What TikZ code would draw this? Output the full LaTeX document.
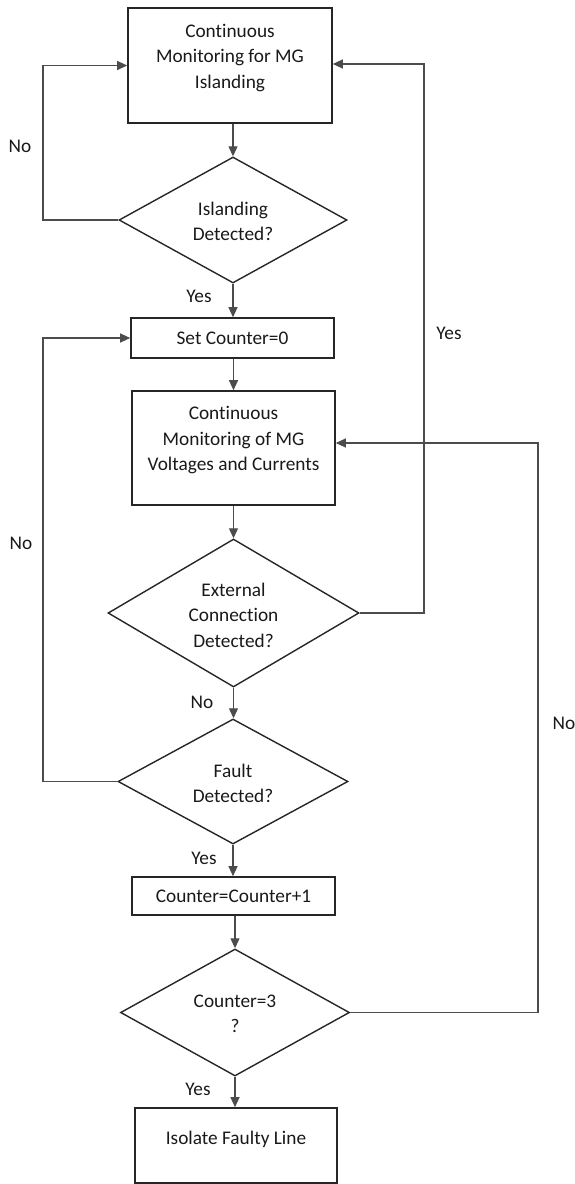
\documentclass[tikz,border=0pt]{standalone}
\usepackage{fontspec}
\setmainfont[Ligatures=NoCommon]{Carlito}
\usetikzlibrary{arrows.meta,shapes.geometric}

\begin{document}
\begin{tikzpicture}[x=1pt,y=-1pt,
  every node/.style={font=\fontsize{19.3}{25.5}\selectfont, text=black!90},
  boxst/.style={draw=black!85, line width=1.6pt, rectangle, inner sep=0pt},
  decst/.style={draw=black!85, line width=1.4pt, diamond, inner sep=0pt},
  txt/.style={align=center, inner sep=0pt},
  lbl/.style={inner sep=0pt},
  arr/.style={draw=black!70, line width=1.1pt, -{Triangle[length=10pt,width=9pt]}},
  ln/.style={draw=black!70, line width=1.1pt}]
\useasboundingbox (0,0) rectangle (575,1184);

% process boxes
\node[boxst, minimum width=204pt, minimum height=115pt] (b1) at (230,65.5) {};
\node[txt] (t1) at (230,58) {Continuous\\Monitoring for MG\\Islanding};

\node[boxst, minimum width=203pt, minimum height=40pt] (b2) at (232.5,338) {};
\node[txt] (t2) at (232.5,338) {Set Counter=0};

\node[boxst, minimum width=203pt, minimum height=114pt] (b3) at (233.5,448) {};
\node[txt] (t3) at (233.5,440.5) {Continuous\\Monitoring of MG\\Voltages and Currents};

\node[boxst, minimum width=203pt, minimum height=38pt] (b4) at (233.5,896) {};
\node[txt] (t4) at (233.5,896) {Counter=Counter+1};

\node[boxst, minimum width=202pt, minimum height=75pt] (b5) at (236,1145.5) {};
\node[txt] (t5) at (236,1139) {Isolate Faulty Line};

% decisions
\node[decst, minimum width=228pt, minimum height=126pt] (d1) at (233,220) {};
\node[txt] (u1) at (233,221.5) {Islanding\\Detected?};

\node[decst, minimum width=251pt, minimum height=148pt] (d2) at (233.5,613) {};
\node[txt] (u2) at (233.5,615) {External\\Connection\\Detected?};

\node[decst, minimum width=230pt, minimum height=125pt] (d3) at (233,781.5) {};
\node[txt] (u3) at (233,783.5) {Fault\\Detected?};

\node[decst, minimum width=229pt, minimum height=127pt] (d4) at (235,1012.5) {};
\node[txt] (u4) at (235,1014) {Counter=3\\?};

% loop rails
\coordinate (lx) at (43,0);
\coordinate (ry) at (424,0);
\coordinate (rn) at (538,0);

% main flow
\draw[arr] (b1.south -| d1.north) -- (d1.north);
\draw[arr] (d1.south) -- (d1.south |- b2.north);
\draw[arr] (b2.south -| b3.north) -- (b3.north);
\draw[arr] (b3.south -| d2.north) -- (d2.north);
\draw[arr] (d2.south) -- (d2.south |- d3.north);
\draw[arr] (d3.south) -- (d3.south |- b4.north);
\draw[arr] (b4.south -| d4.north) -- (d4.north);
\draw[arr] (d4.south) -- (d4.south |- b5.north);

% feedback loops
\draw[arr] (d1.west) -- (d1.west -| lx) |- (b1.west);
\draw[arr] (d2.east) -- (d2.east -| ry) |- ([yshift=1.5pt]b1.east);
\draw[arr] (d3.west) -- (d3.west -| lx) |- (b2.west);
\draw[arr] (d4.east) -- (d4.east -| rn) |- ([yshift=5pt]b3.east);

% branch labels
\node[lbl] (n1) at (20,146) {No};
\node[lbl] (y1) at (199,296) {Yes};
\node[lbl] (y2) at (449,333) {Yes};
\node[lbl] (n2) at (21,543) {No};
\node[lbl] (n3) at (202,702) {No};
\node[lbl] (y3) at (204,858) {Yes};
\node[lbl] (n4) at (564,723) {No};
\node[lbl] (y4) at (198,1089) {Yes};
\end{tikzpicture}
\end{document}
